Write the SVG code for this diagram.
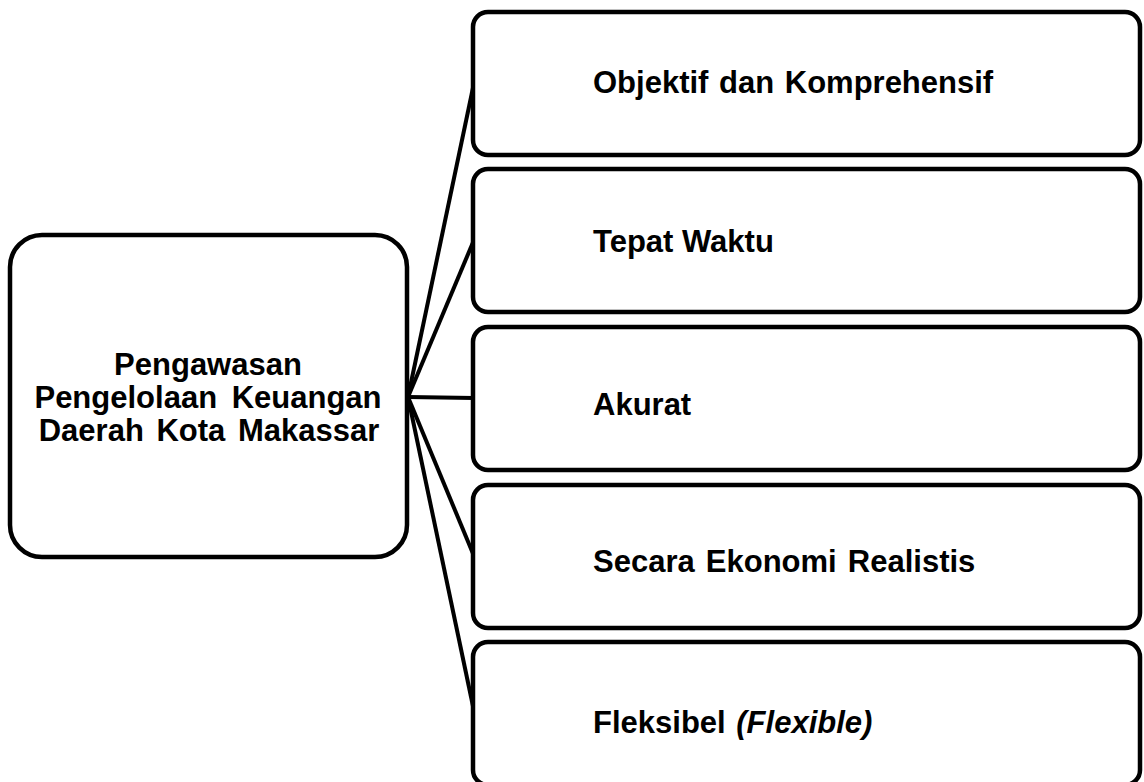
<svg xmlns="http://www.w3.org/2000/svg" width="1144" height="782" viewBox="0 0 1144 782">
<style>
.box{fill:#fff;stroke:#000;stroke-width:4.5}
.con{stroke:#000;stroke-width:4;fill:none}
.t{font-family:"Liberation Sans",Arial,sans-serif;font-weight:bold;font-size:31px;fill:#000}
</style>
<rect width="1144" height="782" fill="#fff"/>
<g id="connectors">
<line class="con" x1="408" y1="397" x2="474" y2="83"/>
<line class="con" x1="408" y1="397" x2="474" y2="240"/>
<line class="con" x1="408" y1="397" x2="474" y2="398"/>
<line class="con" x1="408" y1="397" x2="474" y2="556"/>
<line class="con" x1="408" y1="397" x2="474" y2="711"/>
</g>
<g id="root">
<rect class="box" x="10" y="235" width="397" height="322" rx="32"/>
<text class="t" x="208" y="375" text-anchor="middle">Pengawasan</text>
<text class="t" x="208" y="408" text-anchor="middle" word-spacing="6">Pengelolaan Keuangan</text>
<text class="t" x="209" y="441" text-anchor="middle" word-spacing="4">Daerah Kota Makassar</text>
</g>
<g id="n1">
<rect class="box" x="473" y="12" width="667" height="143" rx="15"/>
<text class="t" x="593" y="93" word-spacing="2">Objektif dan Komprehensif</text>
</g>
<g id="n2">
<rect class="box" x="473" y="169" width="667" height="143" rx="15"/>
<text class="t" x="593" y="252">Tepat Waktu</text>
</g>
<g id="n3">
<rect class="box" x="473" y="327" width="667" height="143" rx="15"/>
<text class="t" x="593" y="415">Akurat</text>
</g>
<g id="n4">
<rect class="box" x="473" y="485" width="667" height="143" rx="15"/>
<text class="t" x="593" y="572" word-spacing="2.5">Secara Ekonomi Realistis</text>
</g>
<g id="n5">
<rect class="box" x="473" y="642" width="667" height="143" rx="15"/>
<text class="t" x="593" y="733">Fleksibel <tspan font-style="italic" dx="2">(Flexible)</tspan></text>
</g>
</svg>
